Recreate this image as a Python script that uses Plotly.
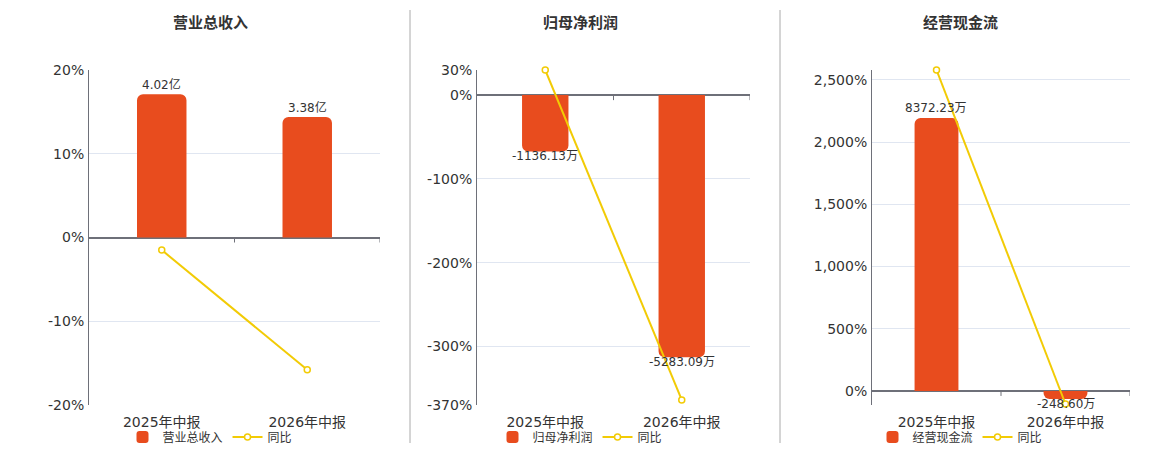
import plotly.graph_objects as go

categories = ["2025年中报", "2026年中报"]

titles = ["营业总收入", "归母净利润", "经营现金流"]

# bar values as shown in the labels (亿 for the first panel, 万 for the others)
revenue = [4.02, 3.38]
revenue_labels = ["4.02亿", "3.38亿"]
revenue_yoy = [-1.5, -15.8]

profit = [-1136.13, -5283.09]
profit_labels = ["-1136.13万", "-5283.09万"]
profit_yoy = [30.0, -364.0]

cashflow = [8372.23, -248.60]
cashflow_labels = ["8372.23万", "-248.60万"]
cashflow_yoy = [2580.0, -105.0]

pct_ticks = [
    [-20, -10, 0, 10, 20],
    [-370, -300, -200, -100, 0, 30],
    [-113, 0, 500, 1000, 1500, 2000, 2500, 2580],
]
pct_ticktext = [
    ["-20%", "-10%", "0%", "10%", "20%"],
    ["-370%", "-300%", "-200%", "-100%", "0%", "30%"],
    ["", "0%", "500%", "1,000%", "1,500%", "2,000%", "2,500%", ""],
]

BAR = "#E84C1E"
LINE = "#F2CB05"
FONT = "DejaVu Sans, Noto Sans CJK SC, sans-serif"
CJK = "Noto Sans CJK SC, sans-serif"
W, H = 1160, 450

panels = [
    dict(bars=revenue, labels=revenue_labels, yoy=revenue_yoy,
         px=(89, 380), center=210, pct_range=[-20, 20], bar_range=[-4.70, 4.70]),
    dict(bars=profit, labels=profit_labels, yoy=profit_yoy,
         px=(477, 750), center=580, pct_range=[-370, 30], bar_range=[-6245, 506]),
    dict(bars=cashflow, labels=cashflow_labels, yoy=cashflow_yoy,
         px=(872, 1130), center=960, pct_range=[-113, 2580], bar_range=[-431, 9845]),
]

fig = go.Figure()
ydom = [1 - 405 / H, 1 - 70 / H]
shapes = []
annotations = []

for i, p in enumerate(panels):
    n = i + 1
    xa = "x" if n == 1 else f"x{n}"
    ybar_id = 2 * n - 1
    ypct_id = 2 * n
    ybar = "y" if ybar_id == 1 else f"y{ybar_id}"
    ypct = f"y{ypct_id}"
    leg = "legend" if n == 1 else f"legend{n}"

    fig.add_trace(go.Bar(
        x=categories, y=p["bars"], name=titles[i], xaxis=xa, yaxis=ybar,
        marker=dict(color=BAR, line=dict(width=0)), width=0.34,
        legend=leg, hoverinfo="skip",
    ))
    fig.add_trace(go.Scatter(
        x=categories, y=p["yoy"], name="同比", xaxis=xa, yaxis=ypct,
        mode="lines+markers", line=dict(color=LINE, width=2),
        marker=dict(symbol="circle", size=6, color="white",
                    line=dict(color=LINE, width=1.5)),
        cliponaxis=False, legend=leg,
    ))

    # value labels: above positive bars, just under negative ones
    for cat, val, lab in zip(categories, p["bars"], p["labels"]):
        annotations.append(dict(
            text=lab, x=cat, y=val, xref=xa, yref=ybar, showarrow=False,
            xanchor="center", yanchor="middle",
            yshift=10 if val >= 0 else -5,
            font=dict(family=FONT, size=12, color="#333"),
        ))

    dom = [p["px"][0] / W, p["px"][1] / W]
    fig.layout[f"xaxis{'' if n == 1 else n}"] = dict(
        domain=dom, anchor=ybar, type="category", showgrid=False,
        showline=False, ticks="outside", ticklen=4, tickcolor="rgba(0,0,0,0)",
        range=[-0.5, 1.5],
        tickfont=dict(family=FONT, size=14, color="#333"),
    )
    fig.layout[f"yaxis{'' if ybar_id == 1 else ybar_id}"] = dict(
        domain=ydom, anchor=xa, range=p["bar_range"], visible=False,
        showgrid=False, zeroline=False,
    )
    fig.layout[f"yaxis{ypct_id}"] = dict(
        anchor=xa, overlaying=ybar, side="left", range=p["pct_range"],
        tickmode="array", tickvals=pct_ticks[i], ticktext=pct_ticktext[i],
        showgrid=True, gridcolor="#E0E6F1", gridwidth=1,
        zeroline=True, zerolinecolor="#6E7079", zerolinewidth=2,
        showline=True, linecolor="#6E7079", linewidth=1,
        ticks="outside", ticklen=1, tickcolor="rgba(0,0,0,0)",
        tickfont=dict(family=FONT, size=14, color="#333"),
    )
    fig.layout[leg] = dict(
        orientation="h", x=p["center"] / W, xanchor="center",
        y=1 - 437 / H, yanchor="middle", bgcolor="rgba(0,0,0,0)",
        font=dict(family=CJK, size=12, color="#333"), itemwidth=30,
        tracegroupgap=0,
    )

    # small tick marks hanging under the zero line
    for xb in [0.5, 1.5]:
        shapes.append(dict(
            type="line", xref=xa, yref=ypct, x0=xb, x1=xb,
            ysizemode="pixel", yanchor=0, y0=0, y1=-5,
            line=dict(color="#6E7079", width=1),
        ))

    annotations.append(dict(
        text=f"<b>{titles[i]}</b>", x=p["center"] / W, y=1 - 22 / H,
        xref="paper", yref="paper", xanchor="center", yanchor="middle",
        showarrow=False, font=dict(family=CJK, size=15, color="#333"),
    ))

for xs in [410, 780]:
    shapes.append(dict(
        type="line", xref="paper", yref="paper", x0=xs / W, x1=xs / W,
        y0=1 - 443 / H, y1=1 - 10 / H, line=dict(color="#AAAAAA", width=1),
    ))

fig.update_layout(
    width=W, height=H, margin=dict(l=0, r=0, t=0, b=0, autoexpand=False),
    plot_bgcolor="white", paper_bgcolor="white",
    barcornerradius=6, shapes=shapes, annotations=annotations,
    showlegend=True, bargap=0.3,
)

fig.write_html("out.html", config={"displayModeBar": False},
               post_script="document.body.style.margin='0';")
